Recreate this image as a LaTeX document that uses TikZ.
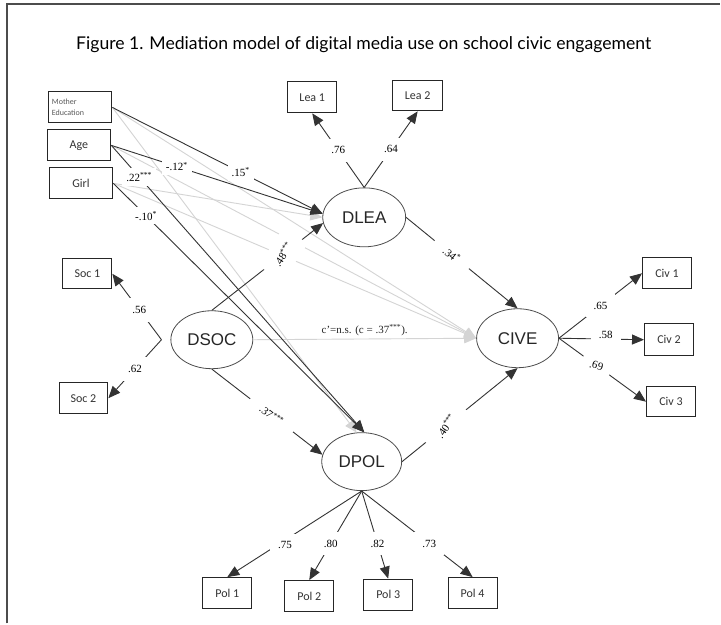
\documentclass[tikz,border=0pt]{standalone}
\usepackage{fontspec}
\setmainfont{Liberation Serif}
\newfontfamily\boxfont{Carlito}
\newfontfamily\ellfont{Liberation Sans}
\newfontfamily\headfont{Lato}
\usetikzlibrary{shapes.geometric,arrows.meta}

\begin{document}
\begin{tikzpicture}[x=1pt, y=-1pt, >={Triangle[length=12pt,width=10pt]},
        dark/.style={every edge/.style={draw=black!80, line width=0.9pt, ->}},
        pale/.style={every edge/.style={draw=black!17, line width=0.9pt, ->}},
        coef/.style={fill=white, inner sep=8pt, font=\fontsize{11}{12}\selectfont}]
        \fill [white] (0,0) rectangle (721,624);
        \draw [black!70, line width=1.2pt] (7,624) -- (7,4) -- (721,4);
        \node [font=\headfont\fontsize{17.6}{20}\selectfont] (T) at (364,45) {Figure 1. Mediation model of digital media use on school civic engagement};

        % observed variables
        \begin{scope}[every node/.style={draw=black!85, rectangle, line width=0.9pt, minimum width=49pt, minimum height=31pt, inner sep=0pt, text=black!80, font=\boxfont\fontsize{12}{14}\selectfont}]
                \node (ME) at (80,107.5) [minimum width=64pt, text width=56pt, align=left, text=black!65, font=\boxfont\fontsize{8}{11}\selectfont] {Mother\\Education};
                \node (Age) at (79,145.5) [minimum width=64pt] {Age};
                \node (Girl) at (81,183.5) [minimum width=64pt] {\raisebox{-4pt}{Girl}};
                \node (Lea1) at (312.5,97.5) {Lea 1};
                \node (Lea2) at (418,96) [minimum width=50pt, minimum height=30pt] {Lea 2};
                \node (Soc1) at (87.5,274) [minimum height=30pt] {Soc 1};
                \node (Soc2) at (83.5,398.5) {Soc 2};
                \node (Civ1) at (667.5,273.5) {Civ 1};
                \node (Civ2) at (669.5,340) [minimum height=32pt] {Civ 2};
                \node (Civ3) at (671.5,402) [minimum height=30pt] {Civ 3};
                \node (Pol1) at (227.5,593.5) {Pol 1};
                \node (Pol2) at (309.5,596.5) {Pol 2};
                \node (Pol3) at (388.5,595) {Pol 3};
                \node (Pol4) at (473,593.5) {Pol 4};
        \end{scope}

        % latent variables
        \begin{scope}[every node/.style={draw=black!70, ellipse, line width=0.8pt, inner sep=0pt, minimum width=82pt, minimum height=58pt, text=black!85, font=\ellfont\fontsize{17}{20}\selectfont}]
                \node (DLEA) at (364.5,217.5) [minimum width=83pt, minimum height=59pt] {DLEA\hspace{24pt}};
                \node (DSOC) at (212,340) {DSOC\hspace{22pt}};
                \node (CIVE) at (518,338.5) [minimum height=59pt] {CIVE\hspace{8pt}};
                \node (DPOL) at (362,462) [minimum width=80pt] {DPOL\hspace{7pt}};
        \end{scope}
        \coordinate (SV) at ([xshift=-9pt]DSOC.west);

        \begin{scope}[every node/.style={coef}]
                % covariates, not significant
                \path [pale] (ME.east) edge (DPOL.100) edge (CIVE.west)
                        (Age.east) edge (CIVE.west)
                        (Girl.east) edge (DLEA.west) edge (CIVE.west);
                \path [pale] (DSOC.east) edge node [above, fill=none, inner sep=3pt, text=black!85] {c’=n.s. (c = .37\textsuperscript{***}).} (CIVE.west);
                % covariates, significant
                \path [dark, every node/.append style={inner sep=4pt}] (ME.east) edge node [pos=.61] {.15\textsuperscript{*}} (DLEA.175)
                        (Age.east) edge node [pos=.31] {-.12\textsuperscript{*}} (DLEA.175)
                        (Age.east) edge node [pos=.11] {.22\textsuperscript{***}} (DPOL.85)
                        (Girl.east) edge node [pos=.13] {-.10\textsuperscript{*}} (DPOL.85);
                % structural paths
                \path [dark] (DSOC.north) edge node [pos=.64, rotate=57, inner sep=10pt] {.48\textsuperscript{***}} (DLEA.188)
                        (DSOC.south) edge node [pos=.54, sloped, inner sep=14pt] {.37\textsuperscript{***}} (DPOL.170)
                        (DLEA.east) edge node [pos=.41, sloped, inner sep=13pt] {.34\textsuperscript{*}} (CIVE.north)
                        (DPOL.east) edge node [pos=.38, rotate=55, inner sep=12pt] {.40\textsuperscript{***}} (CIVE.south);
                % loadings
                \path [dark] (DLEA.north) edge node {.76} (Lea1.south) edge node {.64} (Lea2.south)
                        (SV) edge node [pos=.45] {.56} (Soc1.east) edge node {.62} (Soc2.east)
                        (CIVE.east) edge node {.65} (Civ1.west) edge node [pos=.55, yshift=4pt] {.58} (Civ2.west) edge node [pos=.43, rotate=-15] {.69} (Civ3.west)
                        (DPOL.south) edge node [pos=.63, xshift=8pt] {.75} (Pol1.north) edge node [pos=.59] {.80} (Pol2.north) edge node [pos=.6] {.82} (Pol3.north) edge node [pos=.61] {.73} (Pol4.north);
        \end{scope}
\end{tikzpicture}
\end{document}
